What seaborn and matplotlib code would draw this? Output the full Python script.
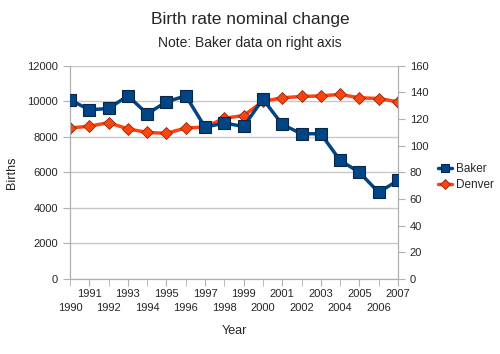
import numpy as np
import pandas as pd
import matplotlib
matplotlib.use("Agg")
import matplotlib.pyplot as plt
import seaborn as sns

years = list(range(1990, 2008))
# Baker births (right axis)
baker = [134.5, 127, 128, 137.5, 124, 133, 137.5, 114, 117, 114.5, 135,
         116, 109, 109, 89, 80, 65, 74]
# Denver births (left axis)
denver = [8500, 8600, 8800, 8450, 8250, 8200, 8500, 8550, 9050, 9200, 10000,
          10200, 10275, 10310, 10390, 10200, 10160, 9975]

df = pd.DataFrame({"Year": years, "Baker": baker, "Denver": denver})

sns.set_style("white")
plt.rcParams['font.family'] = ['Liberation Sans', 'DejaVu Sans']

blue = "#004586"
orange = "#ff420e"

fig = plt.figure(figsize=(5, 3.54), dpi=100)
ax = fig.add_axes([0.14, 0.212, 0.656, 0.602])
ax2 = ax.twinx()

sns.lineplot(data=df, x="Year", y="Denver", ax=ax, color=orange, lw=2.5,
             marker="D", markersize=6, markeredgecolor="#8a2a10",
             markeredgewidth=0.6, label="Denver", legend=False, zorder=3)
sns.lineplot(data=df, x="Year", y="Baker", ax=ax2, color=blue, lw=2.5,
             marker="s", markersize=8, markeredgecolor="#0a2545",
             markeredgewidth=0.8, label="Baker", legend=False, zorder=3)

ax.set_ylim(0, 12000)
ax.set_yticks(range(0, 12001, 2000))
ax2.set_ylim(0, 160)
ax2.set_yticks(range(0, 161, 20))
ax.set_xlim(1990, 2007)

ax.grid(axis="y", color="#c8c8c8", lw=1)
ax.set_axisbelow(True)

# staggered year labels: odd years on top row, even years below
odd = [y for y in years if y % 2 == 1]
even = [y for y in years if y % 2 == 0]
ax.set_xticks(odd)
ax.set_xticklabels([str(y) for y in odd])
ax.set_xticks(even, minor=True)
ax.set_xticklabels([str(y) for y in even], minor=True)
ax.tick_params(axis="x", which="major", length=5, pad=2, labelsize=8,
               color="#b0b0b0", bottom=True)
ax.tick_params(axis="x", which="minor", length=5, pad=12, labelsize=8,
               color="#b0b0b0", bottom=True)
ax.tick_params(axis="y", length=5, labelsize=8, color="#b0b0b0", left=True)
ax2.tick_params(axis="y", length=5, labelsize=8, color="#b0b0b0", right=True)

for a in (ax, ax2):
    a.spines["top"].set_visible(False)
    for s in ("left", "right", "bottom"):
        a.spines[s].set_color("#b0b0b0")

ax.set_xlabel("Year", fontsize=9, labelpad=9)
ax.set_ylabel("Births", fontsize=9, labelpad=7)
ax2.set_ylabel("")

fig.text(0.5, 0.946, "Birth rate nominal change", ha="center", va="center",
         fontsize=12.5)
fig.text(0.5, 0.878, "Note: Baker data on right axis", ha="center",
         va="center", fontsize=10)

h2, l2 = ax2.get_legend_handles_labels()
h1, l1 = ax.get_legend_handles_labels()
fig.legend(h2 + h1, l2 + l1, loc="center left", bbox_to_anchor=(0.855, 0.5),
           frameon=False, fontsize=8.5, handlelength=1.2, handletextpad=0.3,
           labelspacing=0.3, markerscale=0.8)

fig.savefig("out.png", dpi=100)
